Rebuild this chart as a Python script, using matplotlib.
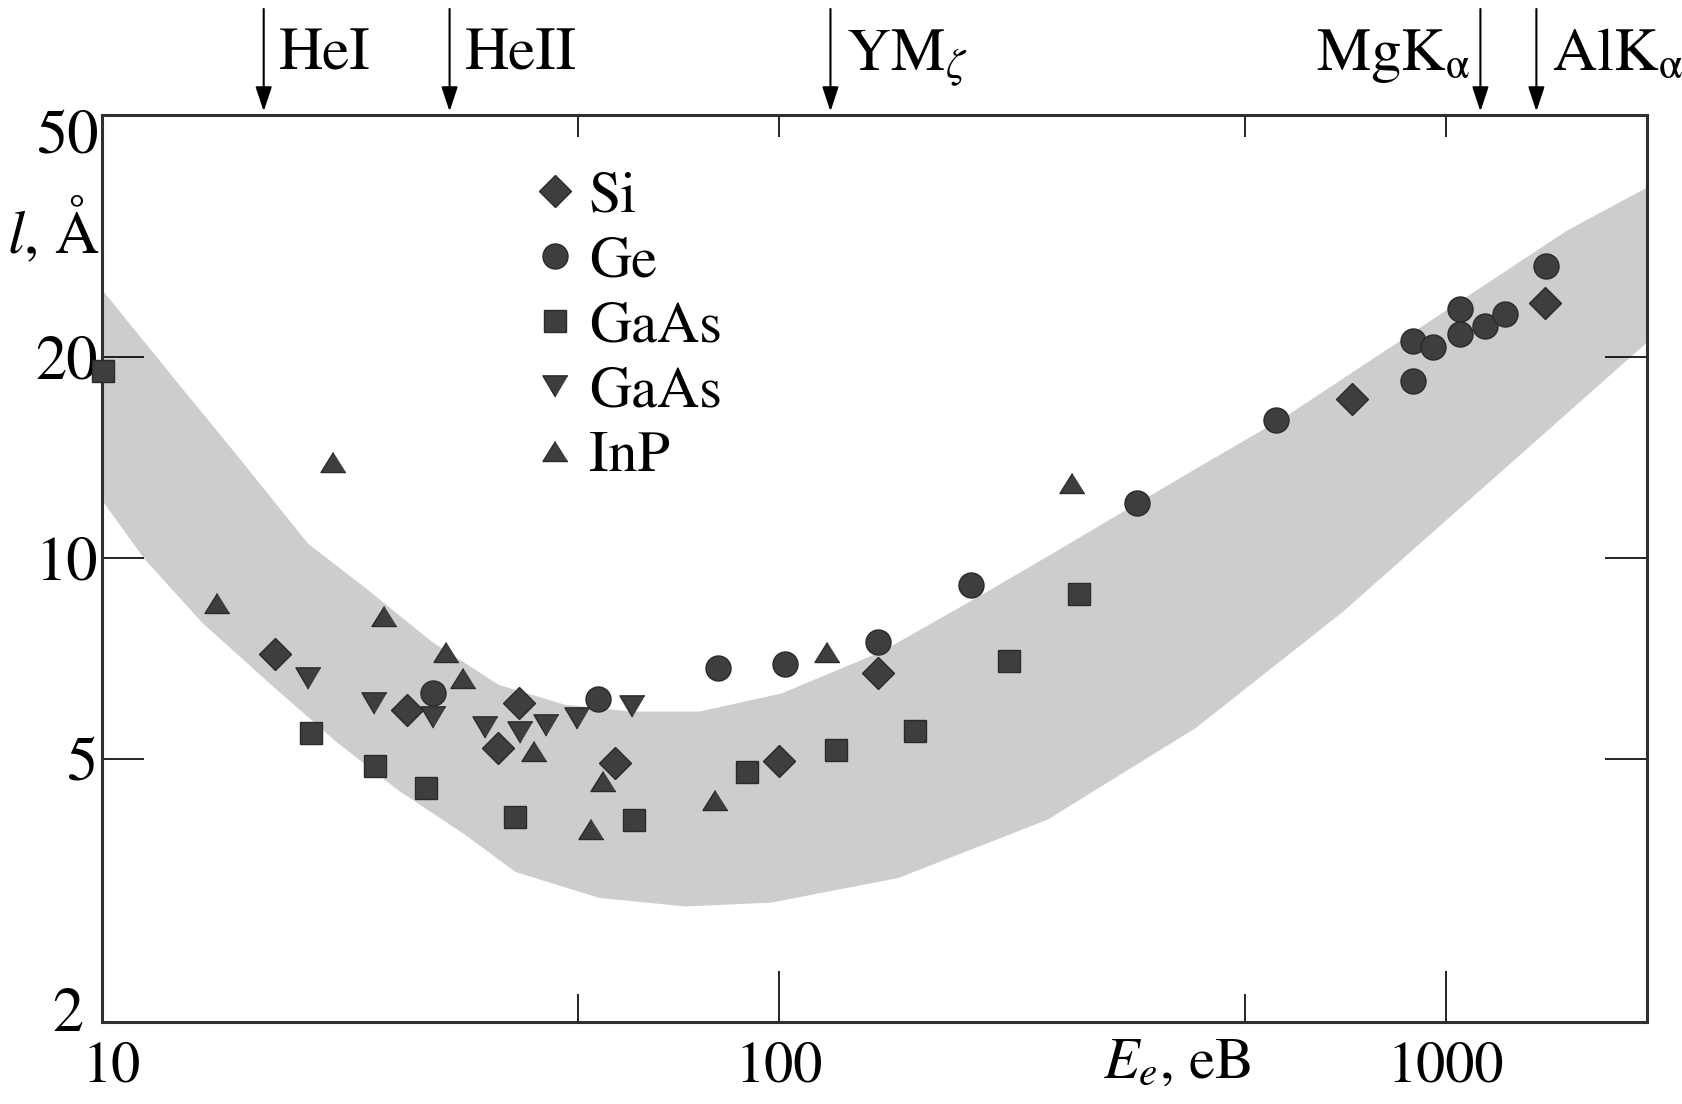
import matplotlib.pyplot as plt

plt.rcParams['font.family'] = ['STIXGeneral', 'Liberation Serif', 'DejaVu Serif']
plt.rcParams['mathtext.fontset'] = 'stix'

# shaded band (upper and lower edge), E in eV, l in angstrom
band_top_e = [9.67, 12.6, 15.1, 19.7, 24.0, 30.2, 38.0, 47.8, 60.2, 76.0, 101, 143, 202, 255, 422, 571, 1520, 2001]
band_top_l = [25.2, 18.2, 14.6, 10.5, 9.02, 7.49, 6.46, 6.03, 5.89, 5.89, 6.27, 7.25, 8.82, 10.1, 13.6, 16.2, 30.9, 35.8]
band_bot_e = [9.67, 11.2, 13.7, 17.4, 21.7, 26.9, 33.9, 40.3, 53.8, 72.4, 97.4, 151, 253, 422, 700, 1204, 2001]
band_bot_l = [12.2, 9.96, 7.98, 6.44, 5.31, 4.49, 3.85, 3.39, 3.10, 3.01, 3.05, 3.32, 4.06, 5.57, 8.3, 13.4, 21.0]

si_e = [17.6, 27.7, 40.8, 38.0, 56.9, 100, 141, 722, 1407]
si_l = [7.17, 5.93, 6.07, 5.19, 4.93, 4.97, 6.73, 17.3, 24.1]

ge_e = [30.3, 53.6, 81.2, 102, 141, 194, 344, 557, 891, 891, 956, 1049, 1049, 1143, 1227, 1412]
ge_l = [6.27, 6.16, 6.85, 6.93, 7.49, 9.12, 12.1, 16.1, 21.1, 18.4, 20.7, 23.6, 21.6, 22.2, 23.2, 27.3]

gaas1_e = [9.7, 19.9, 24.8, 29.6, 40.2, 60.6, 89.5, 122, 160, 221, 282]
gaas1_l = [19.05, 5.47, 4.88, 4.53, 4.10, 4.05, 4.79, 5.16, 5.51, 7.01, 8.82]

gaas2_e = [19.7, 24.7, 30.3, 36.3, 40.9, 44.7, 49.8, 60.2]
gaas2_l = [6.61, 6.07, 5.78, 5.59, 5.49, 5.63, 5.76, 6.00]

inp_e = [14.4, 21.5, 25.6, 31.7, 33.6, 42.9, 54.6, 52.3, 80.1, 118, 275]
inp_l = [8.56, 13.9, 8.19, 7.22, 6.61, 5.14, 4.63, 3.93, 4.35, 7.22, 12.96]

lines_e = [16.9, 32.1, 119.5, 1126, 1366]
lines_lab = ['HeI', 'HeII', r'YM$_{\zeta}$', r'MgK$_{\mathrm{\alpha}}$', r'AlK$_{\mathrm{\alpha}}$']

fc = '#3e3e3e'
ec = '#2a2a2a'
tri_up = [(0, 0.8), (-1, -0.8), (1, -0.8)]
tri_dn = [(0, -0.85), (-1, 0.85), (1, 0.85)]

fig = plt.figure(figsize=(16.82, 11.04), dpi=100)
ax = fig.add_axes([0.0606, 0.0743, 0.9186, 0.8215])
ax.set_xscale('log')
ax.set_yscale('log')
ax.set_xlim(9.67, 2001)
ax.set_ylim(2.022, 45.97)

ax.fill(band_top_e + band_bot_e[::-1], band_top_l + band_bot_l[::-1],
        color='#cdcdcd', lw=0, zorder=1)

kw = dict(ls='none', mfc=fc, mec=ec, mew=1, zorder=3, clip_on=False)
ax.plot(si_e, si_l, marker='D', ms=16, label='Si', **kw)
ax.plot(ge_e, ge_l, marker='o', ms=18, label='Ge', **kw)
ax.plot(gaas1_e, gaas1_l, marker='s', ms=16, label='GaAs', **kw)
ax.plot(gaas2_e, gaas2_l, marker=tri_dn, ms=18, label='GaAs', **kw)
ax.plot(inp_e, inp_l, marker=tri_up, ms=18, label='InP', **kw)

ax.legend(loc='upper left', bbox_to_anchor=(0.278, 0.9385), frameon=False,
          fontsize=42, handlelength=0.8, handletextpad=0.18, labelspacing=0.19,
          borderpad=0, borderaxespad=0)

# axes frame and ticks
for s in ax.spines.values():
    s.set_linewidth(2.2)
    s.set_color('#303030')

ax.set_xticks([10, 100, 1000])
ax.set_xticklabels(['10', '100', '1000'])
ax.set_xticks([50, 500], minor=True)
ax.tick_params(axis='x', which='major', direction='in', length=37, width=1.2,
               labelsize=42, pad=14, top=False)
ax.tick_params(axis='x', which='minor', direction='in', length=20, width=1.2,
               labelbottom=False, top=False)
ax.xaxis.get_major_ticks()[0].tick1line.set_visible(False)

top = ax.secondary_xaxis('top')
top.set_xticks([50, 100, 500, 1000])
top.set_xticks([], minor=True)
top.tick_params(direction='in', length=16, width=1.2, labeltop=False)
top.spines['top'].set_visible(False)

ax.set_yticks([5, 10, 20])
ax.set_yticklabels(['5', '10', '20'])
ax.set_yticks([], minor=True)
ax.tick_params(axis='y', which='major', direction='in', length=30, width=1.2,
               labelsize=45, pad=3, right=True)
ax.text(-0.002, 1 - 24 / 905, '50', transform=ax.transAxes, ha='right',
        va='center', fontsize=45)
ax.text(-0.012, 0.006, '2', transform=ax.transAxes, ha='right',
        va='center', fontsize=45)

# excitation lines marked on top
for e, lab in zip(lines_e, lines_lab):
    ax.annotate('', xy=(e, 1.004), xycoords=('data', 'axes fraction'),
                xytext=(e, 1.117), textcoords=('data', 'axes fraction'),
                arrowprops=dict(arrowstyle='-|>,head_length=0.6,head_width=0.2',
                                color='black', lw=1.5, mutation_scale=25,
                                shrinkA=0, shrinkB=0))
    if lab.startswith('MgK'):
        ax.annotate(lab, xy=(e, 1.05), xycoords=('data', 'axes fraction'),
                    xytext=(-7, 0), textcoords='offset points', ha='right',
                    va='baseline', fontsize=44, annotation_clip=False)
    else:
        ax.annotate(lab, xy=(e, 1.05), xycoords=('data', 'axes fraction'),
                    xytext=(11, 0), textcoords='offset points', ha='left',
                    va='baseline', fontsize=44, annotation_clip=False)

fig.text(0.032, 1 - 231 / 1104, r'$l$, Å', ha='center', va='center', fontsize=44)
fig.text(0.70, 0.024, r'$E_e$, eB', ha='center', va='baseline', fontsize=42)

fig.savefig('out.png', dpi=100)
